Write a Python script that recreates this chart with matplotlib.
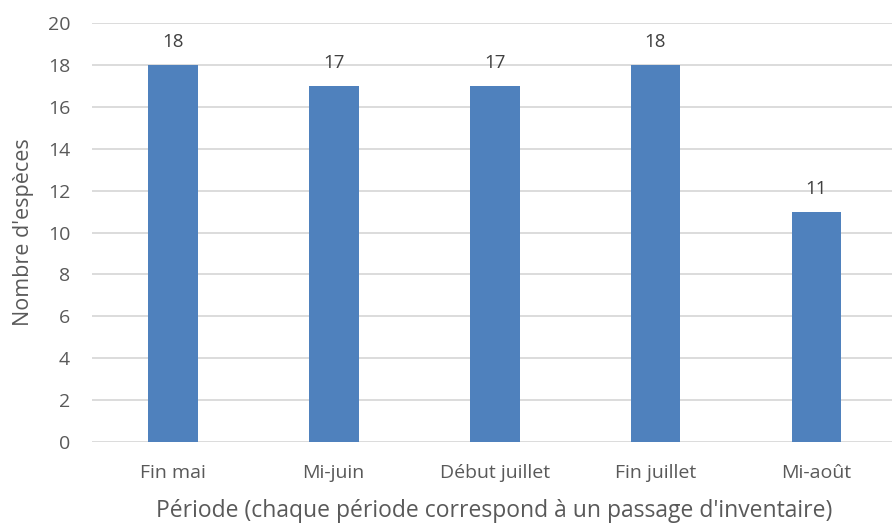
import matplotlib.pyplot as plt

periodes = ["Fin mai", "Mi-juin", "Début juillet", "Fin juillet", "Mi-août"]
nb_especes = [18, 17, 17, 18, 11]

plt.rcParams["font.family"] = ["Open Sans", "DejaVu Sans"]
gris = "#595959"

fig = plt.figure(figsize=(8.92, 5.25), dpi=100)
ax = fig.add_axes([0.1035, 0.158, 0.902, 0.798])

x = range(len(periodes))
bars = ax.bar(x, nb_especes, width=0.31, color="#4F81BD", zorder=3)
ax.bar_label(bars, labels=[str(v) for v in nb_especes], padding=10,
             fontsize=13.5, color="#404040")

ax.set_xlim(-0.5, len(periodes) - 0.5)
ax.set_ylim(0, 20)
ax.set_yticks(range(0, 21, 2))
ax.set_xticks(list(x))
ax.set_xticklabels(periodes)
ax.grid(axis="y", color="#D9D9D9", linewidth=1.3, zorder=0)
for s in ax.spines.values():
    s.set_visible(False)
ax.tick_params(length=0, labelsize=14, colors=gris)
ax.tick_params(axis="x", pad=16)
ax.tick_params(axis="y", pad=16)

ax.set_ylabel("Nombre d'espèces", fontsize=15.5, color=gris, labelpad=10)
ax.set_xlabel("Période (chaque période correspond à un passage d'inventaire)",
              fontsize=16.5, color=gris, labelpad=12)

fig.savefig("out.png", dpi=100)
